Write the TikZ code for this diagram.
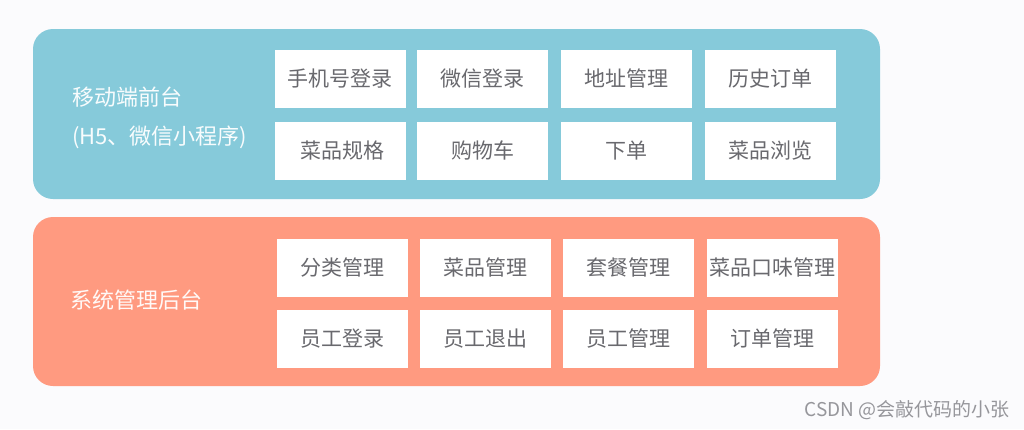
\documentclass[tikz,border=0pt]{standalone}
\usepackage{fontspec}
\newfontfamily\cjk{Noto Sans CJK SC}
\usepackage{tikz}
\usetikzlibrary{positioning}

\definecolor{pagebg}{RGB}{251,251,253}
\definecolor{frontblue}{RGB}{134,202,218}
\definecolor{backsalmon}{RGB}{255,154,128}
\definecolor{itemgray}{RGB}{105,105,110}
\definecolor{marktext}{RGB}{150,150,155}

\begin{document}
\begin{tikzpicture}[
  x=1pt, y=-1pt,
  panel/.style={rounded corners=20pt, inner sep=0pt, minimum width=847pt},
  item/.style={fill=white, inner sep=0pt, minimum width=131pt, minimum height=58pt,
    text=itemgray, font=\cjk\fontsize{21}{21}\selectfont},
  side/.style={anchor=west, inner sep=0pt, text=white!94!frontblue,
    font=\cjk\fontsize{22}{22}\selectfont}
]
  \fill[pagebg] (0,0) rectangle (1024,429);

  % two layers
  \node[panel, fill=frontblue, minimum height=170pt] (front) at (456.5,114) {};
  \node[panel, fill=backsalmon, minimum height=169pt] (back) at (456.5,301.5) {};

  \node[side] (frontname) at (72,97) {移动端前台};
  \node[side] (frontsub) at (72,137) {(H5、微信小程序)};
  \node[side, text=white!94!backsalmon] (backname) at (70,300) {系统管理后台};

  % mobile front end
  \node[item] (login) at (340,78.5) {手机号登录};
  \node[item] (wxlogin) at (482.5,78.5) {微信登录};
  \node[item] (address) at (626.5,78.5) {地址管理};
  \node[item] (history) at (770,78.5) {历史订单};
  \node[item] (spec) at (340,150.5) {\hspace{5pt}菜品规格};
  \node[item] (cart) at (482.5,150.5) {购物车};
  \node[item] (order) at (626.5,150.5) {下单};
  \node[item] (browse) at (770,150.5) {菜品浏览};

  % admin back end
  \node[item] (category) at (342,267.5) {分类管理};
  \node[item] (dish) at (485,267.5) {菜品管理};
  \node[item] (setmeal) at (628.5,267.5) {套餐管理};
  \node[item] (flavor) at (772,267.5) {菜品口味管理};
  \node[item] (emplogin) at (342,338.5) {员工登录};
  \node[item] (emplogout) at (485,338.5) {员工退出};
  \node[item] (employee) at (628.5,338.5) {员工管理};
  \node[item] (orders) at (772,338.5) {订单管理};

  \node[anchor=east, inner sep=0pt, text=marktext, font=\cjk\fontsize{19}{19}\selectfont]
    (mark) at (1010,410) {CSDN @会敲代码的小张};
\end{tikzpicture}
\end{document}
